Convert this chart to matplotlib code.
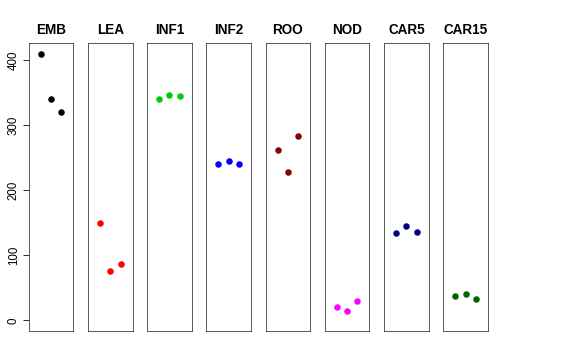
import matplotlib
matplotlib.use("Agg")
import matplotlib.pyplot as plt

plt.rcParams['font.family'] = ['Liberation Sans', 'DejaVu Sans']

# one panel per tissue, three replicates each
tissues = ["EMB", "LEA", "INF1", "INF2", "ROO", "NOD", "CAR5", "CAR15"]
rep_x = [1, 2, 3]
values = {
    "EMB": [410, 341, 321],
    "LEA": [150, 76, 86],
    "INF1": [340, 347, 345],
    "INF2": [240, 245, 240],
    "ROO": [262, 228, 284],
    "NOD": [21, 15, 29],
    "CAR5": [134, 145, 136],
    "CAR15": [37, 40, 33],
}
colours = ["black", "red", "#00CD00", "blue", "#8B0000", "magenta", "#000080", "#006400"]
yticks = [0, 100, 200, 300, 400]

W, H = 576, 360
fig = plt.figure(figsize=(W / 72, H / 72), dpi=72)

left0 = 28.7
step = 59.23
pw = 44.6
bottom = H - 331
ph = 288

for i, name in enumerate(tissues):
    ax = fig.add_axes([(left0 + i * step) / W, bottom / H, pw / W, ph / H])
    ax.plot(rep_x, values[name], "o", color=colours[i], ms=6.5, mec="none")
    ax.set_xlim(-0.16, 4.16)
    ax.set_ylim(-16.4, 426.4)
    ax.set_xticks([])
    ax.set_title(name, fontsize=13.5, fontweight="bold", pad=9)
    for s in ax.spines.values():
        s.set_linewidth(0.8)
        s.set_color("#333333")
    if i == 0:
        ax.set_yticks(yticks)
        ax.set_yticklabels([str(t) for t in yticks], rotation=90, va="center", fontsize=11.5)
        ax.tick_params(axis="y", length=6, width=0.8, pad=3)
    else:
        ax.set_yticks([])

fig.savefig("out.png", dpi=72)
